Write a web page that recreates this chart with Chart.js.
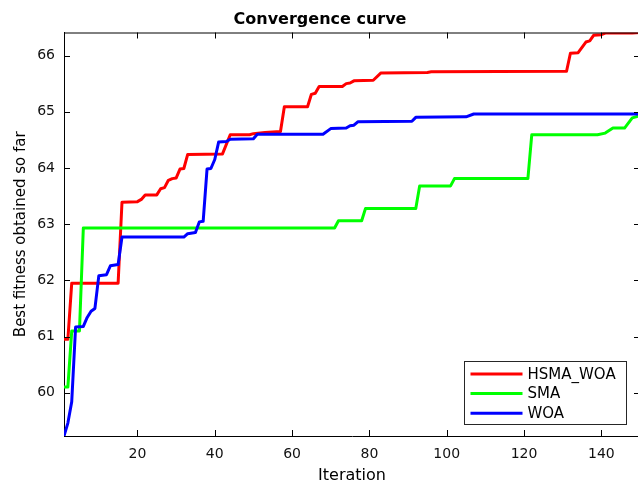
<!DOCTYPE html>
<html>
<head>
<meta charset="utf-8">
<title>Convergence curve</title>
<script src="https://cdn.jsdelivr.net/npm/chart.js@4.4.1/dist/chart.umd.min.js"></script>
<style>
  html, body { margin: 0; padding: 0; background: #fff; overflow: hidden; }
  #wrap { width: 638px; height: 485px; overflow: hidden; }
</style>
</head>
<body>
<div id="wrap"><canvas id="curve" width="642" height="485"></canvas></div>
<script>
// [iteration, best fitness]
const hsmaWoa = [
  [1, 60.95], [2, 60.95], [3, 61.95], [15, 61.95], [16, 63.39], [20, 63.40], [21, 63.44],
  [22, 63.52], [25, 63.52], [26, 63.63], [27, 63.65], [28, 63.78], [29, 63.81], [30, 63.82],
  [31, 63.98], [32, 63.99], [33, 64.24], [42, 64.25], [44, 64.59], [49, 64.59], [50, 64.61],
  [53, 64.63], [57, 64.65], [58, 65.09], [64, 65.09], [65, 65.31], [66, 65.33], [67, 65.45],
  [73, 65.45], [74, 65.50], [75, 65.51], [76, 65.55], [81, 65.56], [83, 65.69], [95, 65.70],
  [96, 65.71], [131, 65.72], [132, 66.04], [134, 66.05], [136, 66.24], [137, 66.26],
  [138, 66.36], [140, 66.37], [141, 66.40], [148, 66.40], [150, 66.41]
];
const sma = [
  [1, 60.10], [2, 60.10], [3, 61.10], [5, 61.10], [6, 62.93], [71, 62.93], [72, 63.06],
  [78, 63.06], [79, 63.28], [92, 63.28], [93, 63.68], [101, 63.68], [102, 63.81],
  [121, 63.81], [122, 64.59], [139, 64.59], [141, 64.62], [143, 64.71], [146, 64.71],
  [148, 64.89], [150, 64.93]
];
const woa = [
  [1, 59.23], [2, 59.46], [3, 59.84], [4, 61.17], [6, 61.18], [7, 61.34], [8, 61.45],
  [9, 61.50], [10, 62.08], [11, 62.09], [12, 62.10], [13, 62.26], [15, 62.28], [16, 62.77],
  [32, 62.77], [33, 62.83], [35, 62.85], [36, 63.04], [37, 63.05], [38, 63.98], [39, 63.99],
  [40, 64.15], [41, 64.46], [43, 64.47], [44, 64.51], [50, 64.52], [51, 64.60], [68, 64.60],
  [70, 64.70], [74, 64.71], [75, 64.75], [76, 64.76], [77, 64.82], [91, 64.83], [92, 64.90],
  [105, 64.91], [107, 64.96], [150, 64.96]
];
const seriesNames = ['HSMA_WOA', 'SMA', 'WOA'];
const seriesColors = ['#ff0000', '#00ff00', '#0000ff'];
const xTicks = [20, 40, 60, 80, 100, 120, 140];
const yTicks = [60, 61, 62, 63, 64, 65, 66];

const toPoints = arr => arr.map(p => ({ x: p[0], y: p[1] }));

// matlab style box: top/right spines, inward ticks, legend in the lower right
const matlabBox = {
  id: 'matlabBox',
  afterDatasetsDraw(chart) {
    const { ctx, chartArea: a, scales: { x, y } } = chart;
    const len = 6;
    ctx.save();
    ctx.strokeStyle = '#000';
    ctx.lineWidth = 1;
    ctx.beginPath();
    ctx.moveTo(a.left, a.top + 0.5);
    ctx.lineTo(a.right, a.top + 0.5);
    ctx.moveTo(a.right - 0.5, a.top);
    ctx.lineTo(a.right - 0.5, a.bottom);
    x.ticks.forEach(t => {
      const px = Math.round(x.getPixelForValue(t.value)) + 0.5;
      ctx.moveTo(px, a.bottom);
      ctx.lineTo(px, a.bottom - len);
      ctx.moveTo(px, a.top);
      ctx.lineTo(px, a.top + len);
    });
    y.ticks.forEach(t => {
      const py = Math.round(y.getPixelForValue(t.value)) + 0.5;
      ctx.moveTo(a.left, py);
      ctx.lineTo(a.left + len, py);
      ctx.moveTo(a.right, py);
      ctx.lineTo(a.right - len, py);
    });
    ctx.stroke();

    // legend
    const w = 162, h = 63;
    const bx = Math.round(a.right - 14 - w) + 0.5;
    const by = Math.round(a.bottom - 12 - h) + 0.5;
    ctx.fillStyle = '#fff';
    ctx.fillRect(bx, by, w, h);
    ctx.strokeStyle = '#262626';
    ctx.strokeRect(bx, by, w, h);
    ctx.font = '15px "DejaVu Sans"';
    ctx.textBaseline = 'middle';
    ctx.textAlign = 'left';
    chart.data.datasets.forEach((ds, i) => {
      const ry = by + 12.5 + i * 19.6;
      ctx.strokeStyle = ds.borderColor;
      ctx.lineWidth = 3;
      ctx.beginPath();
      ctx.moveTo(bx + 6, ry);
      ctx.lineTo(bx + 58, ry);
      ctx.stroke();
      ctx.fillStyle = '#000';
      ctx.fillText(ds.label, bx + 63, ry + 1);
    });
    ctx.restore();
  }
};

const tickFont = { family: 'DejaVu Sans', size: 14 };

new Chart(document.getElementById('curve'), {
  type: 'line',
  data: {
    datasets: [hsmaWoa, sma, woa].map((d, i) => ({
      label: seriesNames[i],
      data: toPoints(d),
      borderColor: seriesColors[i],
      backgroundColor: seriesColors[i],
      borderWidth: 3,
      borderJoinStyle: 'round',
      pointRadius: 0,
      tension: 0,
      order: 2 - i
    }))
  },
  options: {
    responsive: false,
    animation: false,
    layout: { padding: { right: 2 } },
    plugins: {
      legend: { display: false },
      tooltip: { enabled: false },
      title: {
        display: true,
        text: 'Convergence curve',
        color: '#000',
        font: { family: 'DejaVu Sans', size: 16, weight: 'bold' },
        padding: { top: 10, bottom: 3.3 }
      }
    },
    scales: {
      x: {
        type: 'linear',
        min: 1,
        max: 150,
        afterBuildTicks: s => { s.ticks = xTicks.map(v => ({ value: v })); },
        afterFit: s => { s.height = 49; },
        grid: { drawOnChartArea: false, drawTicks: false },
        border: { color: '#000', width: 1 },
        ticks: { color: '#111', font: tickFont, padding: 10, maxRotation: 0, autoSkip: false },
        title: {
          display: true,
          text: 'Iteration',
          color: '#000',
          font: { family: 'DejaVu Sans', size: 16 },
          padding: { top: 0, bottom: 0 }
        }
      },
      y: {
        type: 'linear',
        min: 59.23,
        max: 66.41,
        afterBuildTicks: s => { s.ticks = yTicks.map(v => ({ value: v })); },
        afterFit: s => { s.width = 64; },
        grid: { drawOnChartArea: false, drawTicks: false },
        border: { color: '#000', width: 1 },
        ticks: { color: '#111', font: tickFont, padding: 9 },
        title: {
          display: true,
          text: 'Best fitness obtained so far',
          color: '#000',
          font: { family: 'DejaVu Sans', size: 15 },
          padding: { top: 12, bottom: 0 }
        }
      }
    }
  },
  plugins: [matlabBox]
});
</script>
</body>
</html>
